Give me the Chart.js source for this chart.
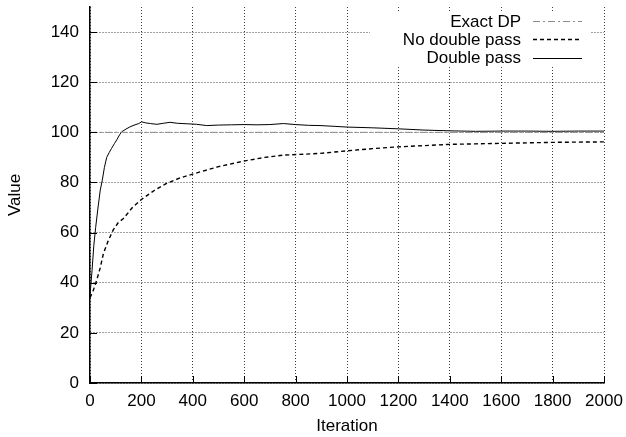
<!DOCTYPE html>
<html>
<head>
<meta charset="utf-8">
<script src="https://cdn.jsdelivr.net/npm/chart.js"></script>
<style>
  body { margin: 0; background: #fff; }
  #wrap { width: 626px; height: 437px; }
</style>
</head>
<body>
<div id="wrap"><canvas id="chart" width="626" height="437"></canvas></div>
<script>
'use strict';
// values
const exactIter = [0, 2000];
const exactVal = [100, 100];

const noDpIter = [0, 13, 26, 40, 52, 70, 90, 110, 130, 165, 200, 250, 298, 350, 428, 500, 597, 680, 752, 817, 895, 999, 1100, 1198, 1300, 1401, 1500, 1595, 1700, 1800, 1900, 2000];
const noDpVal = [34, 37, 41, 46, 51.6, 56.5, 61, 64, 65.6, 70, 73.2, 76.8, 79.6, 81.8, 84.2, 86.3, 88.5, 90, 90.9, 91.2, 91.6, 92.6, 93.5, 94.2, 94.7, 95.2, 95.4, 95.6, 95.8, 96, 96.1, 96.2];

const dpIter = [0, 8, 15, 22, 30, 40, 48, 56, 65, 75, 84, 95, 104, 115, 123, 140, 156, 175, 190, 201, 215, 235, 260, 285, 311, 340, 380, 415, 454, 500, 550, 600, 650, 700, 752, 800, 850, 895, 950, 1000, 1100, 1200, 1300, 1400, 1500, 1600, 1700, 1800, 1900, 2000];
const dpVal = [35, 45, 55, 62, 69, 77, 81, 86, 90, 92, 93.6, 95.5, 97, 99, 100.2, 101.3, 102.2, 103, 103.5, 104.2, 103.8, 103.5, 103.2, 103.6, 104, 103.6, 103.4, 103.2, 102.7, 102.9, 103.0, 103.1, 103.0, 103.1, 103.5, 103.1, 102.8, 102.7, 102.4, 102.1, 101.8, 101.4, 100.9, 100.6, 100.4, 100.5, 100.5, 100.4, 100.5, 100.5];

const labelFont = { family: '"Liberation Sans", Arial, sans-serif', size: 17 };

function pts(xs, ys) {
    return xs.map(function (x, i) { return { x: x, y: ys[i] }; });
}

let datasets = [
    {
        label: 'Exact DP',
        data: pts(exactIter, exactVal),
        borderColor: '#8c8c8c',
        borderWidth: 1,
        borderDash: [7, 3, 2, 3]
    },
    {
        label: 'No double pass',
        data: pts(noDpIter, noDpVal),
        borderColor: '#000',
        borderWidth: 1.4,
        borderDash: [4, 3]
    },
    {
        label: 'Double pass',
        data: pts(dpIter, dpVal),
        borderColor: '#000',
        borderWidth: 1
    }
];

// gnuplot style inward tick marks
const innerTicks = {
    id: 'innerTicks',
    afterDatasetsDraw(chart) {
        const ctx = chart.ctx;
        const xs = chart.scales.x, ys = chart.scales.y;
        const area = chart.chartArea;
        ctx.save();
        ctx.strokeStyle = '#000';
        ctx.lineWidth = 1;
        xs.ticks.forEach(function (t) {
            const px = Math.round(xs.getPixelForValue(t.value)) + 0.5;
            ctx.beginPath();
            ctx.moveTo(px, area.bottom);
            ctx.lineTo(px, area.bottom - 7);
            ctx.stroke();
        });
        ys.ticks.forEach(function (t) {
            const py = Math.round(ys.getPixelForValue(t.value)) + 0.5;
            ctx.beginPath();
            ctx.moveTo(area.left, py);
            ctx.lineTo(area.left + 7, py);
            ctx.stroke();
        });
        ctx.restore();
    }
};

// legend: right aligned text with line sample, white box over the grid
const keyBox = {
    id: 'keyBox',
    afterDatasetsDraw(chart) {
        const ctx = chart.ctx;
        ctx.save();
        ctx.fillStyle = '#fff';
        ctx.fillRect(370, 12, 221, 55);
        ctx.font = labelFont.size + 'px ' + labelFont.family;
        ctx.textAlign = 'right';
        ctx.textBaseline = 'middle';
        chart.data.datasets.forEach(function (ds, i) {
            const y = 21 + i * 18.3;
            ctx.fillStyle = '#000';
            ctx.fillText(ds.label, 521, y + 1);
            ctx.strokeStyle = ds.borderColor;
            ctx.lineWidth = ds.borderWidth;
            ctx.setLineDash(ds.borderDash || []);
            ctx.beginPath();
            ctx.moveTo(533, Math.round(y) + 0.5);
            ctx.lineTo(582, Math.round(y) + 0.5);
            ctx.stroke();
        });
        ctx.restore();
    }
};

let ctx = document.getElementById('chart');
let lineChart = new Chart(ctx, {
    type: 'line',
    data: { datasets: datasets },
    options: {
        responsive: false,
        animation: false,
        layout: { padding: { left: 0, right: 22, top: 7, bottom: 0 } },
        elements: { point: { radius: 0 }, line: { tension: 0 } },
        plugins: { legend: { display: false }, tooltip: { enabled: false } },
        scales: {
            x: {
                type: 'linear',
                min: 0,
                max: 2000,
                afterFit: function (s) { s.height = 54; s.paddingLeft = 0; s.paddingRight = 0; },
                ticks: {
                    stepSize: 200, color: '#000', font: labelFont, padding: 8, maxRotation: 0,
                    callback: function (v) { return String(v); }
                },
                grid: { color: 'rgba(0,0,0,0.75)', lineWidth: 1, drawTicks: false },
                border: { display: true, color: '#000', width: 1.5, dash: [1, 2] },
                title: { display: true, text: 'Iteration', color: '#000', font: labelFont, padding: { top: 0, bottom: 0 } }
            },
            y: {
                min: 0,
                max: 150,
                afterBuildTicks: function (s) { s.ticks = s.ticks.filter(function (t) { return t.value % 20 === 0; }); },
                afterFit: function (s) { s.width = 90; s.paddingTop = 0; s.paddingBottom = 0; },
                ticks: { stepSize: 20, color: '#000', font: labelFont, padding: 11 },
                grid: { color: 'rgba(0,0,0,0.75)', lineWidth: 1, drawTicks: false },
                border: { display: true, color: '#000', width: 1.5, dash: [1, 2] },
                title: { display: true, text: 'Value', color: '#000', font: labelFont, padding: { top: 5, bottom: 0 } }
            }
        }
    },
    plugins: [innerTicks, keyBox]
});
</script>
</body>
</html>
